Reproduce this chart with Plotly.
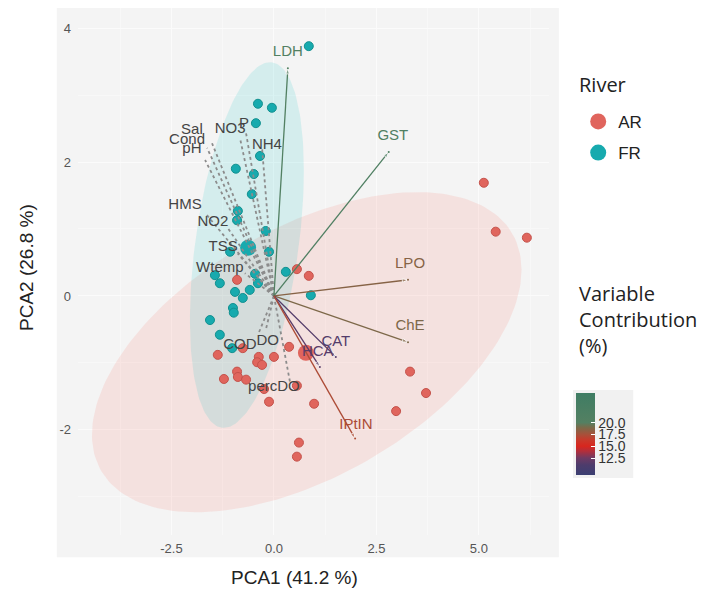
import numpy as np
import plotly.graph_objects as go
from plotly.colors import sample_colorscale

# ---------------- data ----------------
fr_x = [0.85, -0.39, -0.05, -0.44, -0.34, -0.93, -0.49, -0.54, -0.88, -0.90, -0.20, -1.07, -0.12, 0.29,
        -1.44, -1.32, -0.46, -0.39, -0.59, -0.95, -0.76, 0.90, -1.00, -0.98, -1.56, -1.32, -1.02]
fr_y = [3.73, 2.87, 2.81, 2.58, 2.09, 1.90, 1.82, 1.52, 1.27, 1.13, 0.97, 0.66, 0.66, 0.36,
        0.31, 0.19, 0.33, 0.19, 0.09, 0.06, -0.03, 0.01, -0.18, -0.25, -0.36, -0.58, -0.78]

ar_x = [5.12, 5.41, 6.17, 0.56, 0.85, -0.90, 0.37, 0.00, 3.32, 3.71, 2.98, 0.98, 0.61, 0.56,
        -1.37, -0.76, -0.37, -0.41, -0.29, -0.90, -0.88, -1.22, -0.68, -0.24, -0.12, 0.56]
ar_y = [1.69, 0.96, 0.87, 0.40, 0.30, 0.24, -0.76, -0.91, -1.13, -1.45, -1.72, -1.61, -2.19, -2.40,
        -0.88, -0.78, -0.91, -0.99, -1.03, -1.13, -1.21, -1.24, -1.25, -1.39, -1.58, -1.34]

rivers = ["AR", "FR"]
centroid_x = [0.78, -0.63]
centroid_y = [-0.85, 0.72]

# confidence ellipses: centre, half-extent in x and y, phase (deg)
ellipse_cx = [0.80, -0.66]
ellipse_cy = [-0.84, 0.76]
ellipse_ax = [5.24, 1.39]
ellipse_ay = [2.39, 2.73]
ellipse_phase = [59, 66]

# variables (arrows)
var_names = ["LDH", "GST", "LPO", "ChE", "CAT", "HCA", "IPtIN",
             "percDO", "DO", "COD", "Wtemp", "TSS", "NO2", "HMS", "pH", "Cond", "Sal", "NO3", "P", "NH4"]
var_x = [0.34, 2.80, 3.27, 3.27, 1.51, 1.12, 1.98,
         0.39, -0.20, -0.39, -0.71, -0.88, -1.12, -1.68, -1.68, -1.63, -1.51, -0.83, -0.68, -0.29]
var_y = [3.40, 2.15, 0.24, -0.69, -0.91, -1.06, -2.13,
         -1.28, -0.51, -0.58, 0.34, 0.63, 1.01, 1.24, 2.03, 2.21, 2.28, 2.36, 2.43, 2.21]
label_x = [0.34, 2.90, 3.32, 3.32, 1.51, 1.07, 2.00,
           0.00, -0.15, -0.83, -1.32, -1.24, -1.49, -2.17, -2.00, -2.12, -2.00, -1.07, -0.73, -0.17]
label_y = [3.64, 2.39, 0.48, -0.46, -0.69, -0.84, -1.93,
           -1.37, -0.67, -0.73, 0.42, 0.73, 1.10, 1.36, 2.19, 2.33, 2.48, 2.49, 2.57, 2.25]
# contribution (%) for the coloured arrows; None = grey dotted arrows
var_contrib = [20.6, 21.5, 18.6, 18.9, 11.3, 11.6, 17.3,
               None, None, None, None, None, None, None, None, None, None, None, None, None]

# ---------------- styling ----------------
CMIN, CMAX = 8.9, 26.3
cscale = [
    [0.000, "#3b3f72"],
    [0.121, "#4d3c6c"],
    [0.207, "#6e3a63"],
    [0.293, "#b42e3a"],
    [0.351, "#d8261e"],
    [0.425, "#c9382a"],
    [0.494, "#a8503a"],
    [0.580, "#7a6a4a"],
    [0.638, "#548062"],
    [1.000, "#3f7d64"],
]
AR_COL = "#e0655d"
FR_COL = "#17aaae"

fig = go.Figure()

# ellipses
ell_fill = ["rgba(248,118,109,0.15)", "rgba(0,191,196,0.13)"]
t = np.linspace(0, 2 * np.pi, 200)
for i, r in enumerate(rivers):
    ph = np.deg2rad(ellipse_phase[i])
    ex = ellipse_cx[i] + ellipse_ax[i] * np.cos(t)
    ey = ellipse_cy[i] + ellipse_ay[i] * np.cos(t - ph)
    fig.add_trace(go.Scatter(x=ex, y=ey, mode="lines", fill="toself", fillcolor=ell_fill[i],
                             line=dict(width=0), hoverinfo="skip", showlegend=False))

# points
fig.add_trace(go.Scatter(x=ar_x, y=ar_y, mode="markers", showlegend=False,
                         marker=dict(size=9, color=AR_COL, line=dict(width=1, color="#c4524b"))))
fig.add_trace(go.Scatter(x=fr_x, y=fr_y, mode="markers", showlegend=False,
                         marker=dict(size=9, color=FR_COL, line=dict(width=1, color="#12908f"))))

# centroids (legend entries)
cent_cols = [AR_COL, FR_COL]
for i, r in enumerate(rivers):
    fig.add_trace(go.Scatter(x=[centroid_x[i]], y=[centroid_y[i]], mode="markers", name=r,
                             legendgroup=r, marker=dict(size=16, color=cent_cols[i])))

# arrows
colored_idx = [i for i, c in enumerate(var_contrib) if c is not None]
grey_idx = [i for i, c in enumerate(var_contrib) if c is None]
var_colors = []
for i, c in enumerate(var_contrib):
    if c is None:
        var_colors.append("#8a8a8a")
    else:
        var_colors.append(sample_colorscale(cscale, [(c - CMIN) / (CMAX - CMIN)])[0])

for i in grey_idx:
    fig.add_trace(go.Scatter(x=[0, var_x[i]], y=[0, var_y[i]], mode="lines", showlegend=False,
                             line=dict(color="#8c8c8c", width=1.8, dash="dot"), hoverinfo="skip"))
for i in colored_idx:
    fig.add_trace(go.Scatter(x=[0, var_x[i]], y=[0, var_y[i]], mode="lines+markers", showlegend=False,
                             line=dict(color=var_colors[i], width=1.3), hoverinfo="skip",
                             marker=dict(symbol="arrow", angleref="previous", size=[0, 6],
                                         color=var_colors[i])))

# colour bar carrier (arrow tips of coloured variables)
fig.add_trace(go.Scatter(
    x=[var_x[i] for i in colored_idx], y=[var_y[i] for i in colored_idx], mode="markers",
    showlegend=False, hoverinfo="skip",
    marker=dict(size=2, color=[var_contrib[i] for i in colored_idx], colorscale=cscale,
                cmin=CMIN, cmax=CMAX, showscale=True,
                colorbar=dict(x=1.051, xanchor="left", y=0.108, yanchor="bottom",
                              len=0.167, lenmode="fraction", thickness=19, outlinewidth=0,
                              tickvals=[12.5, 15, 17.5, 20], ticktext=["12.5", "15.0", "17.5", "20.0"],
                              ticks="inside", ticklen=4, tickcolor="white",
                              tickfont=dict(size=14, color="#333", family="Liberation Sans"),
                              bgcolor="#f1f1f1", xpad=3, ypad=3))))

# labels
lab_cols = []
for i, c in enumerate(var_contrib):
    if c is None:
        lab_cols.append("#444444")
    else:
        lab_cols.append(var_colors[i])
fig.add_trace(go.Scatter(x=label_x, y=label_y, mode="text", text=var_names, showlegend=False,
                         textfont=dict(size=15, color=lab_cols, family="Liberation Sans"),
                         hoverinfo="skip"))

# zero lines
fig.add_vline(x=0, line=dict(color="#2a2a2a", width=2, dash="dot"), layer="below")
fig.add_hline(y=0, line=dict(color="#2a2a2a", width=2, dash="dot"), layer="below")

# grey background behind panel and tick labels
fig.add_shape(type="rect", xref="paper", yref="paper", x0=-0.045, x1=1.021, y0=-0.042, y1=1.02,
              fillcolor="#f4f4f4", line=dict(width=0), layer="below")

fig.update_layout(
    width=697, height=595,
    margin=dict(l=70, r=156, t=0, b=68),
    paper_bgcolor="white", plot_bgcolor="#f4f4f4",
    font=dict(family="Liberation Sans", color="#333"),
    xaxis=dict(range=[-4.78, 6.71], tickvals=[-2.5, 0, 2.5, 5], ticktext=["-2.5", "0.0", "2.5", "5.0"],
               showgrid=True, gridcolor="#fbfbfb", gridwidth=1.2, zeroline=False, showline=False,
               ticks="", tickfont=dict(size=13, color="#555"), ticklabelstandoff=4,
               minor=dict(tickvals=[-3.75, -1.25, 1.25, 3.75, 6.25], showgrid=True, gridcolor="#f8f8f8",
                          gridwidth=0.6)),
    yaxis=dict(range=[-3.57, 4.30], tickvals=[-2, 0, 2, 4], ticktext=["-2", "0", "2", "4"],
               showgrid=True, gridcolor="#fbfbfb", gridwidth=1.2, zeroline=False, showline=False,
               ticks="", tickfont=dict(size=13, color="#555"), ticklabelstandoff=6,
               minor=dict(tickvals=[-3, -1, 1, 3], showgrid=True, gridcolor="#f8f8f8", gridwidth=0.6)),
    legend=dict(x=1.062, xanchor="left", y=0.818, yanchor="top",
                font=dict(size=17, color="#222"), tracegroupgap=6, bgcolor="rgba(0,0,0,0)",
                itemsizing="trace"),
    annotations=[
        dict(text="PCA1 (41.2 %)", x=0.459, y=-0.080, xref="paper", yref="paper", showarrow=False,
             font=dict(size=19, color="#222"), xanchor="center", yanchor="middle"),
        dict(text="PCA2 (26.8 %)", x=-0.108, y=0.507, xref="paper", yref="paper", showarrow=False,
             font=dict(size=19, color="#222"), textangle=-90, xanchor="center", yanchor="middle"),
        dict(text="River", x=1.059, y=0.854, xref="paper", yref="paper", showarrow=False,
             xanchor="left", yanchor="middle", font=dict(size=20, family="Open Sans", color="#222")),
        dict(text="Variable<br>Contribution<br>(%)", x=1.059, y=0.488, xref="paper", yref="paper",
             showarrow=False, align="left", xanchor="left", yanchor="top",
             font=dict(size=20, family="Open Sans", color="#222")),
    ],
)

fig.write_html("out.html")
